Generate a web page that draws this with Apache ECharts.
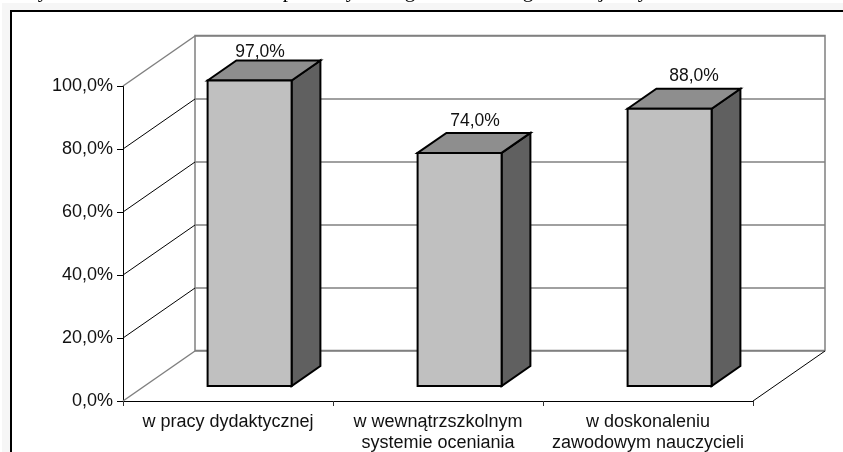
<!DOCTYPE html>
<html lang="en">
<head>
    <meta charset="UTF-8">
    <title>Chart</title>
    <script src="https://cdn.jsdelivr.net/npm/echarts@6/dist/echarts.min.js"></script>
</head>
<style>
    *{
        margin: 0;
        padding: 0;
    }
    html,body{
        width: 100%;
        height: 100%;
        overflow: hidden;
        background: #fff;
    }
    .container{
        width: 843px;
        height: 452px;
    }
</style>
<body>
<div class="container"></div>
<script>
   const categories = ['w pracy dydaktycznej', 'w wewnątrzszkolnym\nsystemie oceniania', 'w doskonaleniu\nzawodowym nauczycieli'];
   const values = [97, 74, 88];
   const yTicks = [0, 20, 40, 60, 80, 100];
   // fragments of the cropped text line above the chart
   const cutLetters = ['y', 'p', 'y', 'g', 'g', 'j', 'y'];
   const cutLetterX = [43, 288, 351, 410, 528, 602, 643];
   // small shifts of the value labels against the back of the bar top
   const labelShift = [[-4, -8], [1, -12], [10, -13]];

   const depthX = 72, depthY = 50;
   const nearDepth = 0.3, farDepth = 0.7;
   const barRatio = 0.4;
   const font = 'Liberation Sans';
   const fontSize = 17.5;

   let mycharts = echarts.init(document.querySelector('.container'));

   function pct(v) {
       return v.toFixed(1).replace('.', ',') + '%';
   }

   function renderWall(params, api) {
       let tick = api.value(1);
       let halfBand = api.size([1, 0])[0] / 2;
       let p = api.coord([0, tick]);
       let edge = tick === 0 || tick === 100;
       return {
           type: 'line',
           shape: {x1: p[0] - halfBand, y1: p[1], x2: p[0] - halfBand + depthX, y2: p[1] - depthY},
           style: {stroke: edge ? '#808080' : '#000', lineWidth: edge ? 1.5 : 1}
       };
   }

   function renderFloorEdge(params, api) {
       let halfBand = api.size([1, 0])[0] / 2;
       let p = api.coord([categories.length - 1, 0]);
       return {
           type: 'line',
           shape: {x1: p[0] + halfBand, y1: p[1], x2: p[0] + halfBand + depthX, y2: p[1] - depthY},
           style: {stroke: '#000', lineWidth: 1}
       };
   }

   function renderBar(params, api) {
       let i = api.value(0);
       let base = api.coord([i, 0]);
       let top = api.coord([i, api.value(1)]);
       let w = api.size([1, 0])[0] * barRatio;
       let x0 = base[0] - w / 2 + depthX * nearDepth;
       let x1 = x0 + w;
       let y0 = base[1] - depthY * nearDepth;
       let yt = top[1] - depthY * nearDepth;
       let dx = depthX * (farDepth - nearDepth);
       let dy = depthY * (farDepth - nearDepth);
       let line = {stroke: '#000', lineWidth: 2, lineJoin: 'miter'};
       return {
           type: 'group',
           children: [
               {
                   type: 'polygon',
                   shape: {points: [[x1, yt], [x1 + dx, yt - dy], [x1 + dx, y0 - dy], [x1, y0]]},
                   style: Object.assign({fill: '#606060'}, line)
               },
               {
                   type: 'polygon',
                   shape: {points: [[x0, yt], [x0 + dx, yt - dy], [x1 + dx, yt - dy], [x1, yt]]},
                   style: Object.assign({fill: '#8e8e8e'}, line)
               },
               {
                   type: 'rect',
                   shape: {x: x0, y: yt, width: w, height: y0 - yt},
                   style: Object.assign({fill: '#c0c0c0'}, line)
               },
               {
                   type: 'text',
                   x: x0 + w / 2 + dx / 2 + labelShift[i][0],
                   y: yt - dy + labelShift[i][1],
                   style: {
                       text: pct(api.value(1)),
                       fill: '#111',
                       font: fontSize + 'px "' + font + '"',
                       align: 'center',
                       verticalAlign: 'middle'
                   }
               }
           ]
       };
   }

   let options = {
       animation: false,
       backgroundColor: '#fff',
       graphic: [
           {
               type: 'rect', z: -12,
               shape: {x: 2, y: 3, width: 841, height: 449},
               style: {fill: '#f6f6f6'}
           },
           {
               type: 'rect', z: -11,
               shape: {x: 11, y: 11, width: 900, height: 500},
               style: {fill: '#fff', stroke: '#000', lineWidth: 2}
           }
       ].concat(cutLetters.map((c, i) => ({
           type: 'text', z: -13,
           x: cutLetterX[i], y: -9,
           style: {text: c, fill: '#000', font: '21px "Liberation Serif"', align: 'center', verticalAlign: 'middle'}
       }))),
       grid: [
           {left: 123, top: 86, width: 630, height: 315, outerBoundsMode: 'none'},
           {left: 195, top: 35.5, width: 630, height: 315, outerBoundsMode: 'none', show: true, backgroundColor: 'transparent', borderColor: '#808080', borderWidth: 1.5}
       ],
       xAxis: [
           {
               type: 'category',
               data: categories,
               axisLine: {lineStyle: {color: '#000', width: 1}},
               axisTick: {show: true, alignWithLabel: false, length: 5, lineStyle: {color: '#333'}},
               axisLabel: {color: '#111', fontFamily: font, fontSize: 18, lineHeight: 21, margin: 11, interval: 0}
           },
           {type: 'category', gridIndex: 1, data: categories, show: false}
       ],
       yAxis: [
           {
               type: 'value', min: 0, max: 100, interval: 20,
               axisLine: {show: true, lineStyle: {color: '#000', width: 1}},
               axisTick: {show: true, length: 6, lineStyle: {color: '#000'}},
               axisLabel: {color: '#111', fontFamily: font, fontSize: 18, margin: 10, padding: [2, 0, 0, 0], formatter: pct},
               splitLine: {show: false}
           },
           {
               type: 'value', gridIndex: 1, min: 0, max: 100, interval: 20,
               axisLine: {show: false}, axisTick: {show: false}, axisLabel: {show: false},
               splitLine: {show: true, lineStyle: {color: '#808080', width: 1.5}}
           }
       ],
       series: [
           {
               type: 'custom', z: 1, silent: true,
               renderItem: renderWall,
               encode: {x: 0, y: 1},
               data: yTicks.map(t => [0, t])
           },
           {
               type: 'custom', z: 1, silent: true,
               renderItem: renderFloorEdge,
               encode: {x: 0, y: 1},
               data: [[categories.length - 1, 0]]
           },
           {
               type: 'custom', z: 3, silent: true,
               renderItem: renderBar,
               encode: {x: 0, y: 1},
               data: values.map((v, i) => [i, v])
           }
       ]
   };
   mycharts.setOption(options);
</script>

</body>
</html>
